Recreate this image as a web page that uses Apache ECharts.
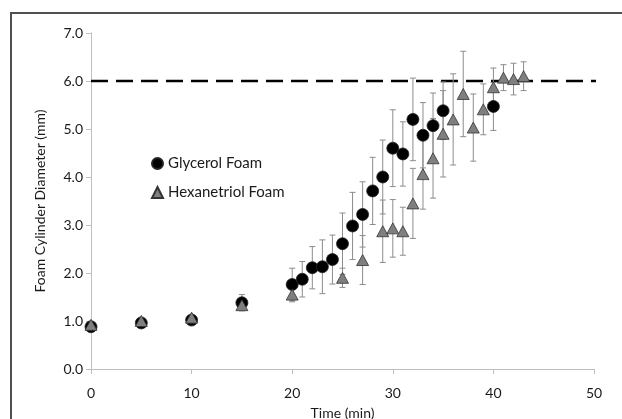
<!DOCTYPE html>
<html>
<head>
<meta charset="utf-8">
<script src="https://cdn.jsdelivr.net/npm/echarts@6/dist/echarts.min.js"></script>
<style>html,body{margin:0;padding:0;background:#fff;}#c{width:622px;height:419px;}</style>
</head>
<body>
<div id="c"></div>
<script>
const glyTimes  = [0, 5, 10, 15, 20, 21, 22, 23, 24, 25, 26, 27, 28, 29, 30, 31, 32, 33, 34, 35, 40];
const glyValues = [0.88, 0.96, 1.02, 1.38, 1.76, 1.87, 2.11, 2.13, 2.28, 2.61, 2.98, 3.22, 3.71, 4.0, 4.6, 4.48, 5.2, 4.87, 5.07, 5.38, 5.47];
const glyErrors = [0.03, 0.03, 0.03, 0.17, 0.34, 0.37, 0.44, 0.56, 0.51, 0.64, 0.7, 0.68, 0.7, 0.77, 0.8, 0.67, 0.86, 0.68, 0.68, 0.6, 0.5];

const hexTimes  = [0, 5, 10, 15, 20, 25, 27, 29, 30, 31, 32, 33, 34, 35, 36, 37, 38, 39, 40, 41, 42, 43];
const hexValues = [0.92, 1.0, 1.07, 1.33, 1.55, 1.9, 2.27, 2.87, 2.93, 2.87, 3.45, 4.06, 4.39, 4.9, 5.2, 5.73, 5.03, 5.41, 5.87, 6.07, 6.04, 6.1];
const hexErrors = [0.03, 0.03, 0.03, 0.05, 0.15, 0.2, 0.51, 0.65, 0.6, 0.5, 0.73, 0.73, 0.83, 0.9, 0.95, 0.89, 0.7, 0.53, 0.4, 0.27, 0.33, 0.3];

const refLineX = [0, 51.6];
const refLineY = [6.0, 6.0];

const xTicks = [0, 10, 20, 30, 40, 50];
const yTicks = [0, 1, 2, 3, 4, 5, 6, 7];

const seriesNames = ['Glycerol Foam', 'Hexanetriol Foam'];
const xTitle = 'Time (min)';
const yTitle = 'Foam Cylinder Diameter (mm)';

const FONT = 'Lato';

function errData(t, v, e) { return t.map((x, i) => [x, v[i], e[i]]); }
function pts(t, v) { return t.map((x, i) => [x, v[i]]); }

function renderErr(params, api) {
  const x = api.value(0), y = api.value(1), e = api.value(2);
  const top = api.coord([x, y + e]);
  const bot = api.coord([x, y - e]);
  const cap = 3;
  const st = { stroke: '#8c8c8c', lineWidth: 1 };
  return {
    type: 'group',
    children: [
      { type: 'line', shape: { x1: top[0], y1: top[1], x2: bot[0], y2: bot[1] }, style: st },
      { type: 'line', shape: { x1: top[0] - cap, y1: top[1], x2: top[0] + cap, y2: top[1] }, style: st },
      { type: 'line', shape: { x1: bot[0] - cap, y1: bot[1], x2: bot[0] + cap, y2: bot[1] }, style: st }
    ]
  };
}

const chart = echarts.init(document.getElementById('c'), null, { renderer: 'canvas' });
chart.setOption({
  animation: false,
  backgroundColor: '#fff',
  graphic: [
    { type: 'line', shape: { x1: 10, y1: 13, x2: 622, y2: 13 },
      style: { stroke: '#505050', lineWidth: 2 }, silent: true, z: 0 },
    { type: 'line', shape: { x1: 11, y1: 12, x2: 11, y2: 419 },
      style: { stroke: '#505050', lineWidth: 2 }, silent: true, z: 0 }
  ],
  grid: { left: 91, right: 28, top: 33, bottom: 50, outerBoundsMode: 'none', containLabel: false },
  legend: {
    orient: 'vertical', left: 146, top: 151, itemGap: 14,
    itemWidth: 11, itemHeight: 11,
    textStyle: { fontFamily: FONT, fontSize: 15, color: '#1a1a1a' },
    data: [
      { name: seriesNames[0], icon: 'circle' },
      { name: seriesNames[1], icon: 'triangle' }
    ]
  },
  xAxis: {
    type: 'value', min: 0, max: 50, interval: 10,
    name: xTitle, nameLocation: 'middle', nameGap: 37,
    nameTextStyle: { fontFamily: FONT, fontSize: 14, color: '#1a1a1a' },
    axisLine: { show: true, lineStyle: { color: '#bfbfbf', width: 1 } },
    axisTick: { show: true, length: 5, lineStyle: { color: '#bfbfbf' } },
    axisLabel: { fontFamily: FONT, fontSize: 14, color: '#1a1a1a', margin: 17,
      customValues: xTicks },
    splitLine: { show: false }
  },
  yAxis: {
    type: 'value', min: 0, max: 7, interval: 1,
    name: yTitle, nameLocation: 'middle', nameGap: 44,
    nameTextStyle: { fontFamily: FONT, fontSize: 14, color: '#1a1a1a' },
    axisLine: { show: true, lineStyle: { color: '#bfbfbf', width: 1 } },
    axisTick: { show: true, length: 5, lineStyle: { color: '#bfbfbf' } },
    axisLabel: { fontFamily: FONT, fontSize: 14, color: '#1a1a1a', margin: 8,
      formatter: v => v.toFixed(1) },
    splitLine: { show: false }
  },
  series: [
    {
      type: 'line', data: pts(refLineX, refLineY), clip: false, symbol: 'none',
      lineStyle: { color: '#000', width: 2.5, type: [17, 8] }, z: 1, silent: true
    },
    {
      type: 'custom', renderItem: renderErr, data: errData(glyTimes, glyValues, glyErrors),
      z: 2, silent: true
    },
    {
      type: 'custom', renderItem: renderErr, data: errData(hexTimes, hexValues, hexErrors),
      z: 2, silent: true
    },
    {
      name: seriesNames[0], type: 'scatter', data: pts(glyTimes, glyValues),
      symbol: 'circle', symbolSize: 12,
      itemStyle: { color: '#000', borderColor: '#222', borderWidth: 0.8, opacity: 1 }, z: 3
    },
    {
      name: seriesNames[1], type: 'scatter', data: pts(hexTimes, hexValues),
      symbol: 'triangle', symbolSize: [12, 11],
      itemStyle: { color: '#7f7f7f', borderColor: '#333', borderWidth: 0.8, opacity: 1 }, z: 4
    }
  ]
});
</script>
</body>
</html>
